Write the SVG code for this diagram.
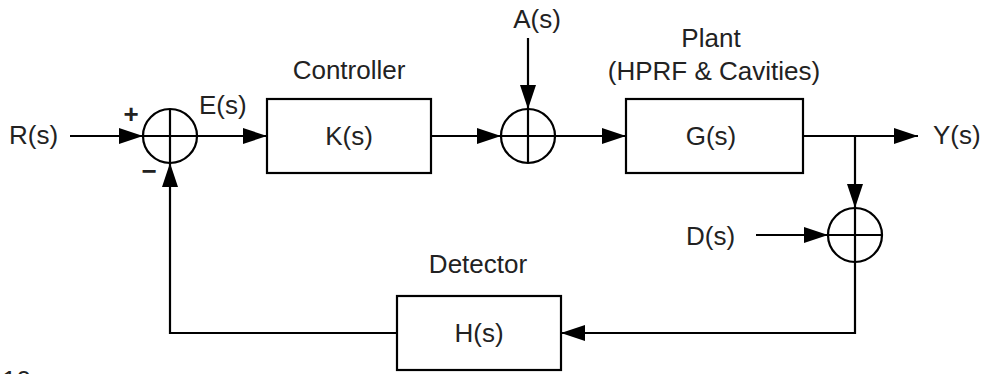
<svg xmlns="http://www.w3.org/2000/svg" width="988" height="374" viewBox="0 0 988 374">
<defs>
<marker id="arr" markerWidth="24" markerHeight="16" refX="24" refY="8" orient="auto" markerUnits="userSpaceOnUse">
<path d="M0,0 L24,8 L0,16 z" fill="#000"/>
</marker>
</defs>
<style>
text{font-family:"Liberation Sans",Arial,sans-serif;font-size:26px;fill:#222}
.c{text-anchor:middle}
.box{fill:#fff;stroke:#000;stroke-width:2.2}
.ln{fill:none;stroke:#000;stroke-width:2.2}
.sum circle{fill:#fff;stroke:#000;stroke-width:2.2}
.sum line{stroke:#000;stroke-width:2.2}
.sign{font-weight:bold}
</style>
<rect width="988" height="374" fill="#fff"/>
<g id="connectors">
<line class="ln" x1="70" y1="136" x2="143" y2="136" marker-end="url(#arr)"/>
<line class="ln" x1="197" y1="136" x2="267" y2="136" marker-end="url(#arr)"/>
<line class="ln" x1="431" y1="136" x2="501" y2="136" marker-end="url(#arr)"/>
<line class="ln" x1="528" y1="38" x2="528" y2="109" marker-end="url(#arr)"/>
<line class="ln" x1="555" y1="136" x2="626" y2="136" marker-end="url(#arr)"/>
<line class="ln" x1="803" y1="136" x2="918" y2="136" marker-end="url(#arr)"/>
<line class="ln" x1="855" y1="136" x2="855" y2="208" marker-end="url(#arr)"/>
<line class="ln" x1="756" y1="235" x2="828" y2="235" marker-end="url(#arr)"/>
<polyline class="ln" points="855,262 855,333 561,333" marker-end="url(#arr)"/>
<polyline class="ln" points="397,333 170,333 170,163" marker-end="url(#arr)"/>
</g>
<g id="R"><text x="9" y="144">R(s)</text></g>
<g id="sum1" class="sum">
<circle cx="170" cy="136" r="27"/>
<line x1="143" y1="136" x2="197" y2="136"/>
<line x1="170" y1="109" x2="170" y2="163"/>
<text x="131" y="123" class="c sign">+</text>
<text x="149" y="180" class="c sign">−</text>
</g>
<g id="E"><text x="199" y="114">E(s)</text></g>
<g id="controller">
<text x="349" y="79" class="c">Controller</text>
<rect class="box" x="267" y="99" width="164" height="74"/>
<text x="349" y="145" class="c">K(s)</text>
</g>
<g id="A"><text x="537" y="28" class="c">A(s)</text></g>
<g id="sum2" class="sum">
<circle cx="528" cy="136" r="27"/>
<line x1="501" y1="136" x2="555" y2="136"/>
<line x1="528" y1="109" x2="528" y2="163"/>
</g>
<g id="plant">
<text x="711" y="47" class="c">Plant</text>
<text x="714" y="80" class="c">(HPRF &amp; Cavities)</text>
<rect class="box" x="626" y="99" width="177" height="74"/>
<text x="711" y="145" class="c">G(s)</text>
</g>
<g id="Y"><text x="933" y="144">Y(s)</text></g>
<g id="D"><text x="686" y="245">D(s)</text></g>
<g id="sum3" class="sum">
<circle cx="855" cy="235" r="27"/>
<line x1="828" y1="235" x2="882" y2="235"/>
<line x1="855" y1="208" x2="855" y2="262"/>
</g>
<g id="detector">
<text x="478" y="273" class="c">Detector</text>
<rect class="box" x="397" y="296" width="164" height="74"/>
<text x="479" y="342" class="c">H(s)</text>
</g>
<g id="pagenum"><text x="2" y="389">10</text></g>
</svg>
